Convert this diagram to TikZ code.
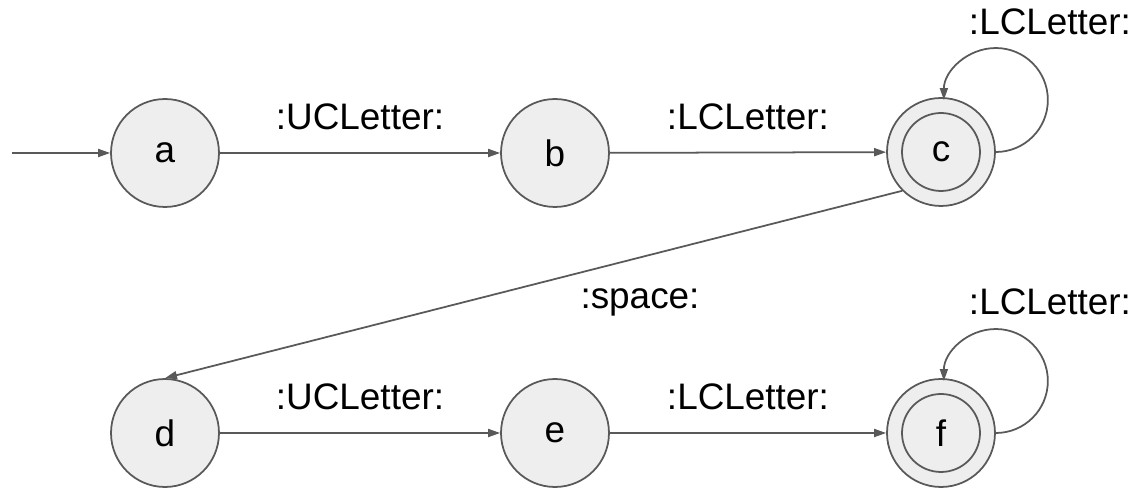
\documentclass[tikz,border=0pt]{standalone}
\usepackage{fontspec}
\setmainfont{Liberation Sans}
\usepackage{tikz}
\usetikzlibrary{positioning,arrows.meta}
\definecolor{edgegray}{RGB}{89,89,89}
\definecolor{statefill}{RGB}{238,238,238}

\tikzset{
  state/.style={circle,draw=edgegray,fill=statefill,line width=1pt,
                minimum size=2.16cm,inner sep=0pt,
                font=\fontsize{21}{25}\selectfont},
  accept/.style={state,path picture={
                \draw[edgegray,line width=1pt]
                  (path picture bounding box.center) circle (0.78cm);}},
  trans/.style={draw=edgegray,line width=1pt,
                -{Triangle[length=0.24cm,width=0.16cm]}},
  lbl/.style={inner sep=0pt,font=\fontsize{21}{25}\selectfont}
}

\begin{document}
\begin{tikzpicture}[x=0.02cm,y=0.02cm]
  \useasboundingbox (0,0) rectangle (1134,490);

  % upper row
  \node[state]  (a) at (165,337) {a};
  \node[state]  (b) at (555,337) {b};
  \node[accept] (c) at (941,338) {c};

  % lower row
  \node[state]  (d) at (165,57) {d};
  \node[state]  (e) at (555,57) {e};
  \node[accept] (f) at (941,57) {f};

  \coordinate (start) at (12,337);

  \draw[trans] (start) -- (a);
  \draw[trans] (a) -- node[lbl,above=0.44cm] {:UCLetter:} (b);
  \draw[trans] (b) -- node[lbl,above=0.44cm] {:LCLetter:} (c);
  \draw[trans] (c.east) arc[start angle=-90,end angle=180,radius=1.04cm];
  \node[lbl] (cloop) at (1050,468) {:LCLetter:};

  \draw[trans] (c.south west) -- (d.north);
  \node[lbl] (space) at (640,188) {:space:};

  \draw[trans] (d) -- node[lbl,above=0.44cm] {:UCLetter:} (e);
  \draw[trans] (e) -- node[lbl,above=0.44cm] {:LCLetter:} (f);
  \draw[trans] (f.east) arc[start angle=-90,end angle=180,radius=1.04cm];
  \node[lbl] (floop) at (1050,188) {:LCLetter:};
\end{tikzpicture}
\end{document}
